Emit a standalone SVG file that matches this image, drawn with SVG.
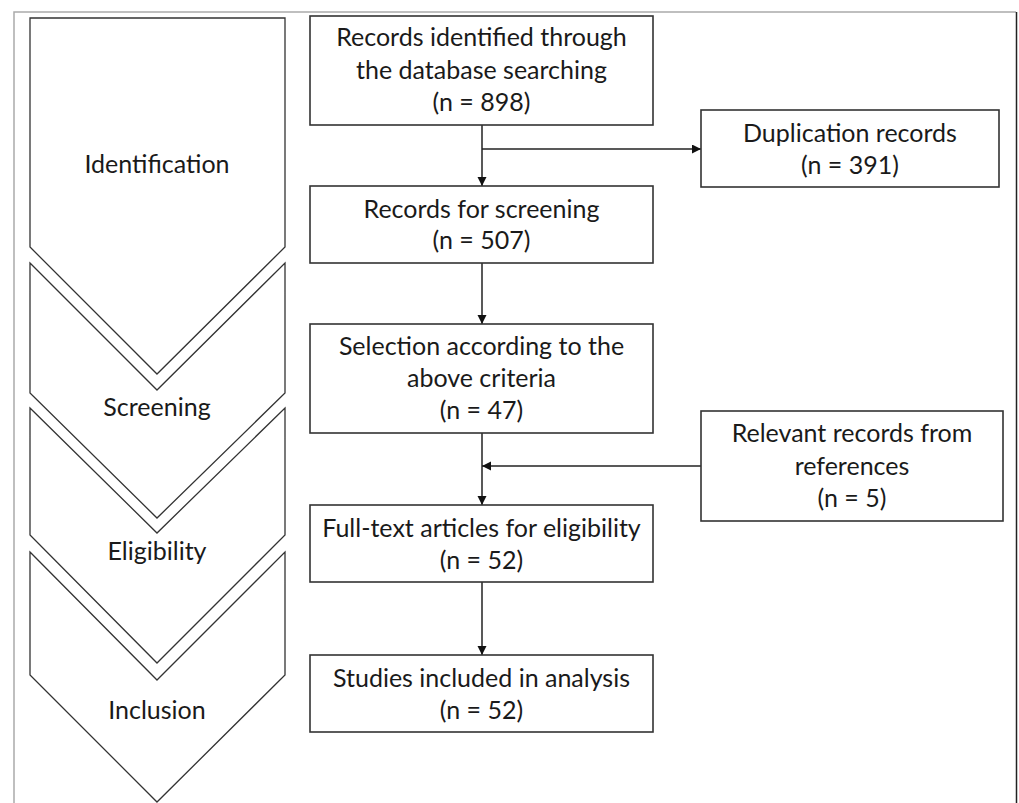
<svg xmlns="http://www.w3.org/2000/svg" width="1019" height="803" viewBox="0 0 1019 803">
<style>
.box{fill:#fff;stroke:#333;stroke-width:1.6}
.chev{fill:#fff;stroke:#333;stroke-width:1.3}
.t{font-family:Lato,"Open Sans","Liberation Sans",sans-serif;font-size:25px;fill:#1a1a1a;text-anchor:middle}
.lab{font-family:Lato,"Open Sans","Liberation Sans",sans-serif;font-size:25px;fill:#1a1a1a;text-anchor:middle}
.c{fill:none;stroke:#222;stroke-width:1.5}
</style>
<defs>
<marker id="ah" markerUnits="userSpaceOnUse" markerWidth="10" markerHeight="10" refX="9" refY="4.5" orient="auto">
<path d="M0,0 L9,4.5 L0,9 Z" fill="#111"/>
</marker>
</defs>
<rect x="0" y="0" width="1019" height="803" fill="#fff"/>
<g id="frame">
<path d="M14,803 V12 H1016" fill="none" stroke="#aaa" stroke-width="1.5"/>
<path d="M1016.5,12 V803" fill="none" stroke="#222" stroke-width="1.5"/>
</g>
<g id="phase-identification">
<path class="chev" d="M30,18 H285 V247 L157,374 L30,247 Z"/>
<text class="lab" x="157" y="173">Identification</text>
</g>
<g id="phase-screening">
<path class="chev" d="M30,263 L157,390 L285,263 V393 L157,518 L30,393 Z"/>
<text class="lab" x="157" y="416">Screening</text>
</g>
<g id="phase-eligibility">
<path class="chev" d="M30,408 L157,533 L285,408 V535 L157,663 L30,535 Z"/>
<text class="lab" x="157" y="560">Eligibility</text>
</g>
<g id="phase-inclusion">
<path class="chev" d="M30,552 L157,680 L285,552 V675 L157,802 L30,675 Z"/>
<text class="lab" x="157" y="719">Inclusion</text>
</g>
<g id="connectors">
<path class="c" d="M482,125 V186" marker-end="url(#ah)"/>
<path class="c" d="M482,149 H701" marker-end="url(#ah)"/>
<path class="c" d="M482,263 V324" marker-end="url(#ah)"/>
<path class="c" d="M482,433 V505" marker-end="url(#ah)"/>
<path class="c" d="M701,466 H482" marker-end="url(#ah)"/>
<path class="c" d="M482,582 V655" marker-end="url(#ah)"/>
</g>
<g id="records-identified">
<rect class="box" x="310" y="16" width="343" height="109"/>
<text class="t" x="481.5" y="46">Records identified through</text>
<text class="t" x="481.5" y="79">the database searching</text>
<text class="t" x="481.5" y="111">(n = 898)</text>
</g>
<g id="duplication">
<rect class="box" x="701" y="110" width="298" height="77"/>
<text class="t" x="850" y="142">Duplication records</text>
<text class="t" x="850" y="174">(n = 391)</text>
</g>
<g id="screening-records">
<rect class="box" x="310" y="186" width="343" height="77"/>
<text class="t" x="481.5" y="218">Records for screening</text>
<text class="t" x="481.5" y="249">(n = 507)</text>
</g>
<g id="selection">
<rect class="box" x="310" y="324" width="343" height="109"/>
<text class="t" x="481.5" y="355">Selection according to the</text>
<text class="t" x="481.5" y="387">above criteria</text>
<text class="t" x="481.5" y="419">(n = 47)</text>
</g>
<g id="relevant">
<rect class="box" x="701" y="411" width="302" height="110"/>
<text class="t" x="852" y="442">Relevant records from</text>
<text class="t" x="852" y="475">references</text>
<text class="t" x="852" y="507">(n = 5)</text>
</g>
<g id="full-text">
<rect class="box" x="310" y="505" width="343" height="77"/>
<text class="t" x="481.5" y="537">Full-text articles for eligibility</text>
<text class="t" x="481.5" y="569">(n = 52)</text>
</g>
<g id="included">
<rect class="box" x="310" y="655" width="343" height="77"/>
<text class="t" x="481.5" y="687">Studies included in analysis</text>
<text class="t" x="481.5" y="719">(n = 52)</text>
</g>
</svg>
